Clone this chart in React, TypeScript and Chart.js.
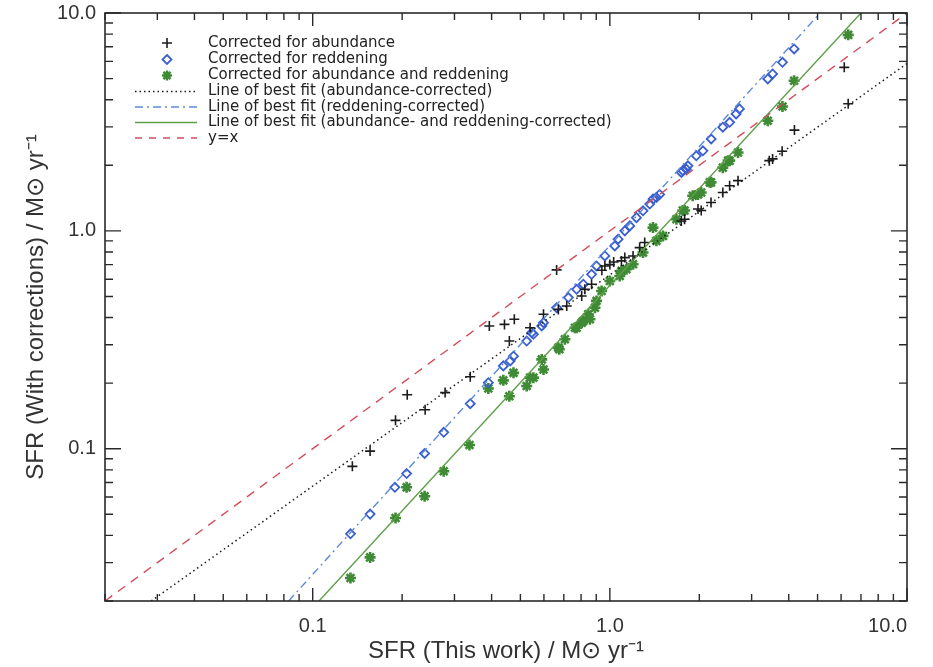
import React, { useEffect, useRef } from 'react';
import { Chart, registerables } from 'chart.js';

Chart.register(...registerables);

// ---- Data ----
const abundX = [0.136, 0.156, 0.190, 0.208, 0.239, 0.279, 0.339, 0.393, 0.442, 0.477, 0.459, 0.539, 0.598, 0.662, 0.671, 0.716, 0.804, 0.824, 0.868, 0.940, 0.962, 1.0, 1.03, 1.094, 1.123, 1.197, 1.26, 1.31, 1.74, 1.785, 1.98, 2.03, 2.19, 2.40, 2.53, 2.70, 3.44, 3.53, 3.80, 4.18, 6.15, 6.34];
const abundY = [0.083, 0.0975, 0.135, 0.177, 0.151, 0.181, 0.214, 0.366, 0.372, 0.393, 0.312, 0.359, 0.414, 0.662, 0.436, 0.452, 0.502, 0.539, 0.569, 0.660, 0.690, 0.700, 0.720, 0.728, 0.754, 0.767, 0.838, 0.884, 1.11, 1.13, 1.26, 1.24, 1.35, 1.50, 1.61, 1.70, 2.10, 2.14, 2.32, 2.90, 5.63, 3.83];

const reddX = [0.134, 0.156, 0.189, 0.207, 0.238, 0.276, 0.339, 0.390, 0.438, 0.462, 0.474, 0.525, 0.546, 0.553, 0.590, 0.598, 0.662, 0.725, 0.773, 0.814, 0.868, 0.902, 0.962, 1.039, 1.066, 1.123, 1.167, 1.229, 1.293, 1.362, 1.397, 1.434, 1.471, 1.740, 1.762, 1.808, 1.832, 1.954, 2.057, 2.193, 2.40, 2.53, 2.66, 2.73, 3.40, 3.53, 3.81, 4.17];
const reddY = [0.0407, 0.0501, 0.0665, 0.0769, 0.0951, 0.119, 0.161, 0.201, 0.240, 0.253, 0.266, 0.312, 0.341, 0.335, 0.366, 0.379, 0.444, 0.494, 0.539, 0.569, 0.632, 0.690, 0.767, 0.853, 0.916, 1.0, 1.054, 1.15, 1.236, 1.327, 1.40, 1.422, 1.47, 1.854, 1.89, 1.92, 1.99, 2.21, 2.33, 2.64, 2.99, 3.15, 3.44, 3.63, 4.98, 5.25, 5.94, 6.84];

const bothX = [0.134, 0.156, 0.190, 0.207, 0.238, 0.276, 0.337, 0.390, 0.438, 0.459, 0.474, 0.525, 0.539, 0.553, 0.590, 0.598, 0.671, 0.676, 0.706, 0.763, 0.773, 0.804, 0.814, 0.846, 0.857, 0.891, 0.902, 0.938, 1.0, 1.080, 1.094, 1.137, 1.197, 1.293, 1.397, 1.434, 1.51, 1.675, 1.76, 1.785, 1.90, 1.98, 2.03, 2.17, 2.19, 2.40, 2.50, 2.53, 2.70, 3.40, 3.81, 4.17, 6.34];
const bothY = [0.0255, 0.0317, 0.0481, 0.0665, 0.0605, 0.0788, 0.104, 0.189, 0.206, 0.174, 0.223, 0.194, 0.212, 0.212, 0.257, 0.231, 0.291, 0.286, 0.318, 0.359, 0.359, 0.379, 0.386, 0.414, 0.393, 0.444, 0.477, 0.530, 0.589, 0.621, 0.655, 0.667, 0.703, 0.795, 1.035, 0.900, 0.948, 1.13, 1.24, 1.24, 1.45, 1.47, 1.50, 1.67, 1.67, 1.95, 2.10, 2.10, 2.29, 3.20, 3.72, 4.89, 7.94];

// line-of-best-fit end points (where each line meets the frame)
const fitAbundX = [0.0286, 10];
const fitAbundY = [0.02, 5.86];
const fitReddX = [0.083, 5.1];
const fitReddY = [0.02, 10];
const fitBothX = [0.105, 7.0];
const fitBothY = [0.02, 10];
const unityX = [0.02, 10];
const unityY = [0.02, 10];

const axisMin = 0.02;
const axisMax = 10;
const tickValues = [0.1, 1, 10];
const tickLabels = ['0.1', '1.0', '10.0'];

const legendLabels = [
  'Corrected for abundance',
  'Corrected for reddening',
  'Corrected for abundance and reddening',
  'Line of best fit (abundance-corrected)',
  'Line of best fit (reddening-corrected)',
  'Line of best fit (abundance- and reddening-corrected)',
  'y=x',
];

const xTitle = 'SFR (This work) / M\u2299 yr\u207B\u00B9';
const yTitle = 'SFR (With corrections) / M\u2299 yr\u207B\u00B9';

// ---- Styles ----
const C_BLACK = '#1c1c1c';
const C_BLUE = '#3a5fcf';
const C_BLUE_LINE = '#5d8ad8';
const C_GREEN = '#3f8a35';
const C_GREEN_LINE = '#5f9f4a';
const C_RED = '#d24c5c';
const FONT = '"Liberation Sans", Arial, Helvetica, sans-serif';

const zip = (xs: number[], ys: number[]) => xs.map((x, i) => ({ x, y: ys[i] }));

function drawCross(ctx: CanvasRenderingContext2D, x: number, y: number, r: number) {
  ctx.beginPath();
  ctx.moveTo(x - r, y); ctx.lineTo(x + r, y);
  ctx.moveTo(x, y - r); ctx.lineTo(x, y + r);
  ctx.stroke();
}
function drawDiamond(ctx: CanvasRenderingContext2D, x: number, y: number, r: number) {
  ctx.beginPath();
  ctx.moveTo(x, y - r); ctx.lineTo(x + r, y); ctx.lineTo(x, y + r); ctx.lineTo(x - r, y);
  ctx.closePath();
  ctx.stroke();
}
function drawStar(ctx: CanvasRenderingContext2D, x: number, y: number, r: number) {
  ctx.beginPath();
  ctx.moveTo(x - r, y); ctx.lineTo(x + r, y);
  ctx.moveTo(x, y - r); ctx.lineTo(x, y + r);
  const d = r * Math.SQRT1_2;
  ctx.moveTo(x - d, y - d); ctx.lineTo(x + d, y + d);
  ctx.moveTo(x - d, y + d); ctx.lineTo(x + d, y - d);
  ctx.stroke();
}

const frameTicks = {
  id: 'frameTicks',
  afterDatasetsDraw(chart: any) {
    const { ctx, chartArea: a, scales } = chart;
    const xs = scales.x;
    const ys = scales.y;
    ctx.save();
    ctx.strokeStyle = '#2a2a2a';
    ctx.lineWidth = 1.6;
    ctx.setLineDash([]);
    ctx.strokeRect(a.left, a.top, a.right - a.left, a.bottom - a.top);
    ctx.lineWidth = 1.4;
    for (let e = -2; e <= 1; e++) {
      for (let m = 1; m <= 9; m++) {
        const v = m * Math.pow(10, e);
        if (v < axisMin * 0.999 || v > axisMax * 1.001) continue;
        const major = m === 1;
        const px = xs.getPixelForValue(v);
        const lx = major ? 13 : 7;
        ctx.beginPath();
        ctx.moveTo(px, a.bottom); ctx.lineTo(px, a.bottom - lx);
        ctx.moveTo(px, a.top); ctx.lineTo(px, a.top + lx);
        const py = ys.getPixelForValue(v);
        const ly = major ? 16 : 8;
        ctx.moveTo(a.left, py); ctx.lineTo(a.left + ly, py);
        ctx.moveTo(a.right, py); ctx.lineTo(a.right - ly, py);
        ctx.stroke();
      }
    }
    ctx.restore();
  },
};

const insideLegend = {
  id: 'insideLegend',
  afterDraw(chart: any) {
    const { ctx } = chart;
    const x0 = 135, x1 = 197, mx = 167, tx = 208;
    const rows = [43, 59.5, 75.5, 91.5, 107, 122.5, 138];
    ctx.save();
    ctx.font = '15px "DejaVu Sans", sans-serif';
    ctx.textBaseline = 'middle';
    ctx.textAlign = 'left';
    legendLabels.forEach((label, i) => {
      const y = rows[i];
      ctx.setLineDash([]);
      if (i === 0) { ctx.strokeStyle = C_BLACK; ctx.lineWidth = 1.6; drawCross(ctx, mx, y, 5); }
      if (i === 1) { ctx.strokeStyle = C_BLUE; ctx.lineWidth = 1.8; drawDiamond(ctx, mx, y, 4.5); }
      if (i === 2) { ctx.strokeStyle = C_GREEN; ctx.lineWidth = 2.5; drawStar(ctx, mx, y, 5); }
      if (i >= 3) {
        const styles = [
          { c: C_BLACK, d: [1.5, 3] },
          { c: C_BLUE_LINE, d: [8, 4, 2, 4] },
          { c: C_GREEN_LINE, d: [] },
          { c: C_RED, d: [7, 7] },
        ][i - 3];
        ctx.strokeStyle = styles.c;
        ctx.lineWidth = 1.4;
        ctx.setLineDash(styles.d);
        ctx.beginPath();
        ctx.moveTo(x0, y); ctx.lineTo(x1, y);
        ctx.stroke();
        ctx.setLineDash([]);
      }
      ctx.fillStyle = '#222';
      ctx.fillText(label, tx, y);
    });
    ctx.restore();
  },
};

function labelFor(v: number) {
  const i = tickValues.findIndex((t) => Math.abs(t - v) / t < 1e-6);
  return i >= 0 ? tickLabels[i] : '';
}

function noPad(s: any) {
  s.paddingTop = 0;
  s.paddingBottom = 0;
  s.paddingLeft = 0;
  s.paddingRight = 0;
}

export default function App() {
  const ref = useRef<HTMLCanvasElement | null>(null);
  useEffect(() => {
    document.body.style.margin = '0';
    const canvas = ref.current;
    if (!canvas) return;
    const tickFont = { family: FONT, size: 20 };
    const titleFont = { family: FONT, size: 24 };
    const chart = new Chart(canvas, {
      type: 'scatter',
      data: {
        datasets: [
          {
            label: legendLabels[6], type: 'line', data: zip(unityX, unityY),
            borderColor: C_RED, borderWidth: 1.4, borderDash: [9, 7], pointRadius: 0, fill: false,
          },
          {
            label: legendLabels[3], type: 'line', data: zip(fitAbundX, fitAbundY),
            borderColor: C_BLACK, borderWidth: 1.5, borderDash: [1.5, 3.2], pointRadius: 0, fill: false,
          },
          {
            label: legendLabels[4], type: 'line', data: zip(fitReddX, fitReddY),
            borderColor: C_BLUE_LINE, borderWidth: 1.4, borderDash: [8, 4, 2, 4], pointRadius: 0, fill: false,
          },
          {
            label: legendLabels[5], type: 'line', data: zip(fitBothX, fitBothY),
            borderColor: C_GREEN_LINE, borderWidth: 1.4, pointRadius: 0, fill: false,
          },
          {
            label: legendLabels[0], data: zip(abundX, abundY),
            pointStyle: 'cross', pointRadius: 5, borderColor: C_BLACK, borderWidth: 1.6,
            backgroundColor: C_BLACK,
          },
          {
            label: legendLabels[1], data: zip(reddX, reddY),
            pointStyle: 'rectRot', pointRadius: 4.5, borderColor: C_BLUE, borderWidth: 1.8,
            backgroundColor: 'rgba(0,0,0,0)',
          },
          {
            label: legendLabels[2], data: zip(bothX, bothY),
            pointStyle: 'star', pointRadius: 5.5, borderColor: C_GREEN, borderWidth: 2.6,
            backgroundColor: C_GREEN,
          },
        ],
      },
      options: {
        responsive: false,
        animation: false,
        events: [],
        layout: { padding: { left: 0, right: 26, top: 13, bottom: 0 } },
        plugins: { legend: { display: false }, tooltip: { enabled: false } },
        scales: {
          x: {
            type: 'logarithmic', position: 'bottom', min: axisMin, max: axisMax,
            // leading unlabelled tick at the axis minimum lets 'inner' alignment keep "10.0" inside
            afterBuildTicks: (s: any) => { s.ticks = [axisMin, ...tickValues].map((v) => ({ value: v })); },
            afterFit: (s: any) => { s.height = 66; noPad(s); },
            grid: { display: false, drawTicks: false },
            border: { display: false },
            ticks: {
              callback: (v: any) => labelFor(Number(v)), font: tickFont, color: '#333',
              padding: 13, maxRotation: 0, autoSkip: false, align: 'inner',
            },
            title: {
              display: true, text: xTitle, font: titleFont, color: '#333',
              padding: { top: 0, bottom: 1 },
            },
          },
          y: {
            type: 'logarithmic', position: 'left', min: axisMin, max: axisMax,
            afterBuildTicks: (s: any) => { s.ticks = tickValues.map((v) => ({ value: v })); },
            afterFit: (s: any) => { s.width = 105; noPad(s); },
            grid: { display: false, drawTicks: false },
            border: { display: false },
            ticks: {
              callback: (v: any) => labelFor(Number(v)), font: tickFont, color: '#333',
              padding: 9, autoSkip: false,
            },
            title: {
              display: true, text: yTitle, font: titleFont, color: '#333',
              padding: { top: 22, bottom: 0 },
            },
          },
        },
      },
      plugins: [frameTicks, insideLegend],
    } as any);
    return () => chart.destroy();
  }, []);
  return <canvas ref={ref} width={933} height={667} style={{ display: 'block' }} />;
}
